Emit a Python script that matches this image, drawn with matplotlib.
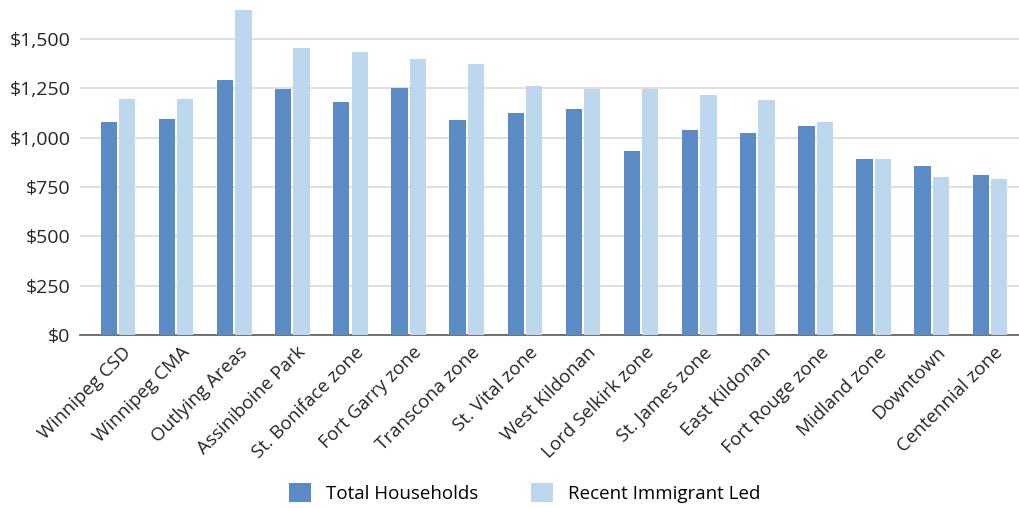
import matplotlib.pyplot as plt
import matplotlib.transforms as mtransforms
import numpy as np
from matplotlib.ticker import FuncFormatter

categories = ["Winnipeg CSD", "Winnipeg CMA", "Outlying Areas", "Assiniboine Park",
              "St. Boniface zone", "Fort Garry zone", "Transcona zone", "St. Vital zone",
              "West Kildonan", "Lord Selkirk zone", "St. James zone", "East Kildonan",
              "Fort Rouge zone", "Midland zone", "Downtown", "Centennial zone"]
total_households = [1078, 1096, 1291, 1245, 1179, 1252, 1088, 1123,
                    1144, 931, 1041, 1022, 1059, 894, 856, 811]
recent_immigrant = [1198, 1198, 1647, 1454, 1436, 1399, 1372, 1262,
                    1245, 1245, 1215, 1189, 1078, 894, 801, 792]

plt.rcParams['font.family'] = ['Open Sans', 'DejaVu Sans']

fig = plt.figure(figsize=(10.19, 5.08), dpi=100)
ax = fig.add_axes([80 / 1019, 1 - 335 / 508, 1 - 80 / 1019, 335 / 508])

x = np.arange(len(categories))
w = 0.28
off = 0.158
ax.bar(x - off, total_households, w, color='#5B8BC5', label='Total Households', zorder=3)
ax.bar(x + off, recent_immigrant, w, color='#BDD7EE', label='Recent Immigrant Led', zorder=3)

ax.set_ylim(0, 1698)
ax.set_xlim(-0.654, 15.5)
ax.set_yticks(np.arange(0, 1501, 250))
ax.yaxis.set_major_formatter(FuncFormatter(lambda v, p: f"${v:,.0f}"))
ax.grid(axis='y', color='#D9D9D9', linewidth=1.2, zorder=0)
for s in ['top', 'right', 'left']:
    ax.spines[s].set_visible(False)
ax.spines['bottom'].set_color('#595959')
ax.spines['bottom'].set_linewidth(1.2)
ax.tick_params(axis='both', length=0, colors='#262626')
ax.tick_params(axis='y', pad=7, labelsize=14)
ax.tick_params(axis='x', pad=6)
ax.set_xticks(x)
ax.set_xticklabels(categories, rotation=45, ha='right', rotation_mode='anchor', fontsize=13.5)
shift = mtransforms.ScaledTranslation(4 / 100, 0, fig.dpi_scale_trans)
for lbl in ax.get_xticklabels():
    lbl.set_transform(lbl.get_transform() + shift)

fig.legend(loc='center', bbox_to_anchor=(0.515, 15 / 508), ncol=2, frameon=False,
           fontsize=13.5, handlelength=1.2, handleheight=1.2, columnspacing=2.8)

fig.savefig('out.png', dpi=100)
